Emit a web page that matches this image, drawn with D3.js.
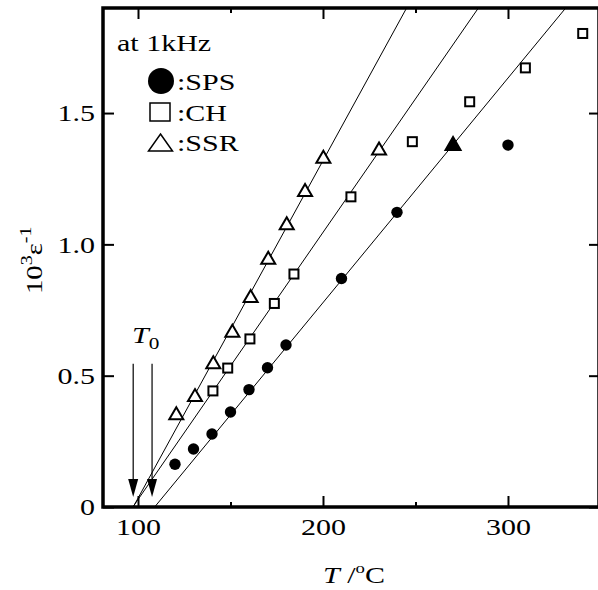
<!DOCTYPE html>
<html>
<head>
<meta charset="utf-8">
<script src="https://cdn.jsdelivr.net/npm/d3@7"></script>
<style>
  body { margin: 0; background: #fff; }
  svg text { font-family: "Liberation Serif", "DejaVu Serif", serif; fill: #000; }
</style>
</head>
<body>
<svg id="chart" width="598" height="590"></svg>
<script>
// values
var spsT = [120, 130, 140, 150, 160, 170, 180, 210, 240, 300];
var spsV = [0.163, 0.221, 0.278, 0.362, 0.447, 0.530, 0.617, 0.870, 1.122, 1.378];

var chT = [140.5, 148.5, 160.5, 173.7, 184.3, 215.1, 248.3, 279.3, 309.4, 340.4];
var chV = [0.442, 0.529, 0.640, 0.775, 0.887, 1.181, 1.391, 1.543, 1.672, 1.803];

var ssrT = [120.7, 130.8, 140.7, 151, 160.9, 170.4, 180.4, 190.3, 200.2, 230.3];
var ssrV = [0.357, 0.426, 0.551, 0.671, 0.803, 0.949, 1.080, 1.207, 1.334, 1.365];

var ssrFilledT = [270.3];
var ssrFilledV = [1.384];

// fitted lines: T at v=0 and T at v=1.9
var fitNames = ["SPS", "CH", "SSR"];
var fitStartT = [109.0, 97.2, 97.4];
var fitEndT = [331.2, 284.0, 245.2];
var fitEndV = 1.9;

var t0Arrows = [97.4, 107.6];
var arrowTopV = 0.545;

var xTicks = [100, 150, 200, 250, 300];
var yTicks = [0, 0.5, 1.0, 1.5];
var yTickLabels = ["0", "0.5", "1.0", "1.5"];

var svg = d3.select("#chart");
var pLeft = 103, pRight = 599, pTop = 8, pBottom = 507;
var stretch = 1.25; // the figure's type is wider than Liberation Serif

var x = d3.scaleLinear().domain([81.08, 349.2]).range([pLeft, pRight]);
var y = d3.scaleLinear().domain([0, 1.9]).range([pBottom, pTop]);

function zip(a, b) { return a.map(function(d, i) { return [d, b[i]]; }); }

function label(px, py, size, rot) {
  return svg.append("g")
      .attr("transform", "translate(" + px + "," + py + ")" + (rot ? " rotate(" + rot + ")" : "") + " scale(" + stretch + ",1)")
    .append("text")
      .attr("font-size", size);
}

svg.append("clipPath").attr("id", "plotclip")
  .append("rect")
    .attr("x", pLeft).attr("y", pTop)
    .attr("width", pRight - pLeft).attr("height", pBottom - pTop);

var plot = svg.append("g").attr("clip-path", "url(#plotclip)");

// fit lines
fitNames.forEach(function(n, i) {
  plot.append("line")
    .attr("x1", x(fitStartT[i])).attr("y1", y(0))
    .attr("x2", x(fitEndT[i])).attr("y2", y(fitEndV))
    .attr("stroke", "#000").attr("stroke-width", 1);
});

// T0 arrows
t0Arrows.forEach(function(t) {
  var ax = x(t), ay1 = y(arrowTopV), tip = y(0) - 10;
  svg.append("line")
    .attr("x1", ax).attr("y1", ay1).attr("x2", ax).attr("y2", tip - 12)
    .attr("stroke", "#000").attr("stroke-width", 1.2);
  svg.append("path")
    .attr("d", "M" + (ax - 5) + "," + (tip - 18) + "L" + (ax + 5) + "," + (tip - 18) + "L" + ax + "," + tip + "Z")
    .attr("fill", "#000");
});

var t0 = label(132, 343, 24);
t0.append("tspan").attr("font-style", "italic").text("T");
t0.append("tspan").attr("font-size", 17).attr("dy", 6).text("0");

function triPath(w, h) {
  return "M0," + (-h / 2) + "L" + (w / 2) + "," + (h / 2) + "L" + (-w / 2) + "," + (h / 2) + "Z";
}

// SPS: filled circles
plot.selectAll("circle.sps").data(zip(spsT, spsV)).enter().append("circle")
  .attr("class", "sps")
  .attr("cx", function(d) { return x(d[0]); })
  .attr("cy", function(d) { return y(d[1]); })
  .attr("r", 5.7)
  .attr("fill", "#000");

// CH: open squares
plot.selectAll("rect.ch").data(zip(chT, chV)).enter().append("rect")
  .attr("class", "ch")
  .attr("x", function(d) { return x(d[0]) - 4.5; })
  .attr("y", function(d) { return y(d[1]) - 4.5; })
  .attr("width", 9).attr("height", 9)
  .attr("fill", "#fff").attr("stroke", "#000").attr("stroke-width", 2);

// SSR: open triangles
plot.selectAll("path.ssr").data(zip(ssrT, ssrV)).enter().append("path")
  .attr("class", "ssr")
  .attr("transform", function(d) { return "translate(" + x(d[0]) + "," + y(d[1]) + ")"; })
  .attr("d", triPath(14, 12))
  .attr("fill", "#fff").attr("stroke", "#000").attr("stroke-width", 2);

plot.selectAll("path.ssrf").data(zip(ssrFilledT, ssrFilledV)).enter().append("path")
  .attr("class", "ssrf")
  .attr("transform", function(d) { return "translate(" + x(d[0]) + "," + y(d[1]) + ")"; })
  .attr("d", triPath(15, 13))
  .attr("fill", "#000").attr("stroke", "#000").attr("stroke-width", 2);

// axes
function styleAxis(g) {
  g.select(".domain").remove();
  g.selectAll(".tick line").attr("stroke", "#000").attr("stroke-width", 2);
  g.selectAll(".tick text").attr("font-size", 24).attr("font-family", "Liberation Serif");
}

var xBottom = svg.append("g").attr("transform", "translate(0," + pBottom + ")")
  .call(d3.axisBottom(x).tickValues(xTicks)
    .tickFormat(function(d) { return d % 100 === 0 ? d : ""; }))
  .call(styleAxis);
xBottom.selectAll(".tick line").attr("y2", function(d) { return d % 100 === 0 ? -11 : -5; });
xBottom.selectAll(".tick text").attr("y", 11).attr("transform", "scale(" + stretch + ",1)");

var xTop = svg.append("g").attr("transform", "translate(0," + pTop + ")")
  .call(d3.axisTop(x).tickValues(xTicks).tickFormat(""))
  .call(styleAxis);
xTop.selectAll(".tick line").attr("y2", function(d) { return d % 100 === 0 ? 11 : 5; });

var yLeft = svg.append("g").attr("transform", "translate(" + pLeft + ",0)")
  .call(d3.axisLeft(y).tickValues(yTicks).tickFormat(function(d, i) { return yTickLabels[i]; }))
  .call(styleAxis);
yLeft.selectAll(".tick line").attr("x2", 11);
yLeft.selectAll(".tick text").attr("x", -6.5).attr("transform", "scale(" + stretch + ",1)");

var yRight = svg.append("g").attr("transform", "translate(" + pRight + ",0)")
  .call(d3.axisRight(y).tickValues(yTicks).tickFormat(""))
  .call(styleAxis);
yRight.selectAll(".tick line").attr("x2", -10);

// frame
svg.append("rect")
  .attr("x", pLeft).attr("y", pTop)
  .attr("width", pRight - pLeft).attr("height", pBottom - pTop)
  .attr("fill", "none").attr("stroke", "#000").attr("stroke-width", 3.5);

// axis titles
var xt = label(323, 583, 24);
xt.append("tspan").attr("font-style", "italic").text("T");
xt.append("tspan").text(" /");
xt.append("tspan").attr("font-size", 15).attr("dy", -10).text("o");
xt.append("tspan").attr("dy", 10).text("C");

var yt = label(42, 294, 23, -90);
yt.append("tspan").text("10");
yt.append("tspan").attr("font-size", 16).attr("dy", -10).text("3");
yt.append("tspan").attr("dy", 10).text("\u03b5");
yt.append("tspan").attr("font-size", 16).attr("dy", -11).text("-1");

// legend
label(117, 51, 24).text("at 1kHz");

svg.append("circle").attr("cx", 161).attr("cy", 81).attr("r", 13).attr("fill", "#000");
label(177, 90, 24).text(":SPS");

svg.append("rect").attr("x", 150).attr("y", 103).attr("width", 20).attr("height", 18)
  .attr("fill", "none").attr("stroke", "#000").attr("stroke-width", 1.5);
label(177, 121, 24).text(":CH");

svg.append("path").attr("transform", "translate(160.5,142.5)").attr("d", triPath(24, 17))
  .attr("fill", "none").attr("stroke", "#000").attr("stroke-width", 1.5);
label(177, 151, 24).text(":SSR");
</script>
</body>
</html>
